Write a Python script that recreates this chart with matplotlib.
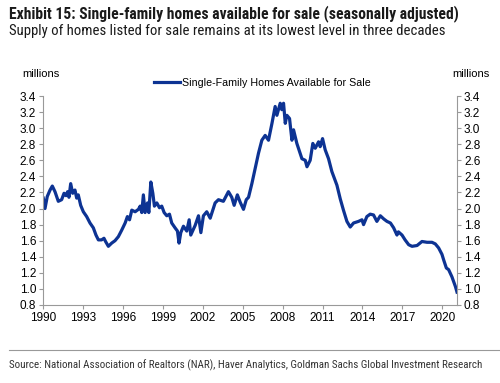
import matplotlib
matplotlib.use("Agg")
import matplotlib.pyplot as plt
from matplotlib import font_manager

years = [1990.02, 1990.15, 1990.32, 1990.53, 1990.70, 1990.90, 1991.15, 1991.40, 1991.58, 1991.73,
         1991.85, 1991.95, 1992.08, 1992.23, 1992.40, 1992.53, 1992.65, 1992.83, 1993.03, 1993.28,
         1993.53, 1993.78, 1993.98, 1994.16, 1994.40, 1994.58, 1994.70, 1994.91, 1995.16, 1995.41,
         1995.66, 1995.91, 1996.17, 1996.34, 1996.50, 1996.67, 1996.92, 1997.17, 1997.30, 1997.42,
         1997.54, 1997.67, 1997.85, 1997.95, 1998.10, 1998.25, 1998.37, 1998.55, 1998.75, 1998.92,
         1999.10, 1999.30, 1999.50, 1999.67, 1999.92, 2000.10, 2000.22, 2000.35, 2000.55, 2000.80,
         2000.98, 2001.10, 2001.43, 2001.68, 2001.86, 2002.05, 2002.30, 2002.56, 2002.93, 2003.18,
         2003.55, 2003.93, 2004.18, 2004.36, 2004.60, 2004.81, 2005.06, 2005.27, 2005.44, 2005.69,
         2005.94, 2006.19, 2006.44, 2006.69, 2006.94, 2007.20, 2007.44, 2007.57, 2007.82, 2007.94,
         2008.07, 2008.20, 2008.32, 2008.52, 2008.70, 2008.82, 2009.07, 2009.45, 2009.70, 2009.83,
         2010.07, 2010.27, 2010.45, 2010.70, 2010.82, 2011.00, 2011.20, 2011.45, 2011.70, 2012.08,
         2012.33, 2012.57, 2012.83, 2013.08, 2013.33, 2013.70, 2013.96, 2014.08, 2014.33, 2014.58,
         2014.83, 2015.08, 2015.34, 2015.60, 2015.84, 2016.10, 2016.34, 2016.59, 2016.70, 2016.97,
         2017.20, 2017.47, 2017.72, 2018.10, 2018.47, 2018.85, 2019.22, 2019.47, 2019.72, 2019.97,
         2020.10, 2020.30, 2020.47, 2020.72, 2020.98, 2021.10]

homes = [2.13, 2.00, 2.15, 2.23, 2.28, 2.21, 2.09, 2.11, 2.19, 2.16,
         2.21, 2.14, 2.31, 2.19, 2.23, 2.13, 2.17, 2.04, 1.96, 1.90,
         1.82, 1.76, 1.67, 1.61, 1.61, 1.63, 1.59, 1.53, 1.57, 1.60,
         1.65, 1.73, 1.82, 1.90, 1.86, 1.98, 1.96, 1.99, 2.03, 1.95,
         2.17, 1.95, 2.07, 1.95, 2.33, 2.19, 2.03, 2.07, 2.01, 2.03,
         1.95, 1.91, 1.93, 1.82, 1.76, 1.72, 1.57, 1.70, 1.78, 1.72,
         1.86, 1.67, 1.79, 1.91, 1.70, 1.91, 1.96, 1.88, 2.07, 2.11,
         2.09, 2.21, 2.14, 2.04, 2.17, 2.08, 1.99, 2.11, 2.14, 2.31,
         2.50, 2.69, 2.85, 2.91, 2.85, 3.06, 3.27, 3.16, 3.31, 3.23,
         3.31, 3.06, 3.16, 3.12, 2.85, 2.98, 2.81, 2.62, 2.60, 2.52,
         2.60, 2.81, 2.75, 2.83, 2.77, 2.87, 2.73, 2.62, 2.46, 2.29,
         2.12, 1.98, 1.84, 1.77, 1.82, 1.84, 1.86, 1.80, 1.90, 1.93,
         1.92, 1.84, 1.91, 1.87, 1.84, 1.82, 1.76, 1.67, 1.71, 1.67,
         1.61, 1.55, 1.53, 1.54, 1.59, 1.58, 1.58, 1.56, 1.51, 1.43,
         1.36, 1.26, 1.24, 1.15, 1.03, 0.96]

xticks = [1990, 1993, 1996, 1999, 2002, 2005, 2008, 2011, 2014, 2017, 2020]
yticks = [0.8, 1.0, 1.2, 1.4, 1.6, 1.8, 2.0, 2.2, 2.4, 2.6, 2.8, 3.0, 3.2, 3.4]

title = "Exhibit 15: Single-family homes available for sale (seasonally adjusted)"
subtitle = "Supply of homes listed for sale remains at its lowest level in three decades"
series_name = "Single-Family Homes Available for Sale"
source = "Source: National Association of Realtors (NAR), Haver Analytics, Goldman Sachs Global Investment Research"

# pick a condensed face if one exists
names = {f.name for f in font_manager.fontManager.ttflist}
narrow = None
for cand in ["Liberation Sans Narrow", "Arial Narrow", "Roboto Condensed", "Open Sans Condensed"]:
    if cand in names:
        narrow = cand
        break
narrow_kw = {}
if narrow is not None:
    narrow_kw = dict(family=[narrow, 'DejaVu Sans'])
else:
    has_dv_cond = any(f.name == 'DejaVu Sans' and str(f.stretch) in ('condensed', '400', 'semi-condensed')
                      and 'Condensed' in f.fname for f in font_manager.fontManager.ttflist)
    if has_dv_cond:
        narrow_kw = dict(family=['DejaVu Sans'], fontstretch='condensed')
    else:
        narrow_kw = dict(family=['Liberation Sans', 'DejaVu Sans'])

plt.rcParams['font.family'] = ['Liberation Sans', 'DejaVu Sans']

fig = plt.figure(figsize=(5.0, 3.83), dpi=100)
ax = fig.add_axes([0.086, 0.2037, 0.828, 0.5456])
line_color = "#0d3393"
ax.plot(years, homes, color=line_color, lw=2.3, label=series_name, solid_joinstyle='round')
ax.set_xlim(1990, 2021.1)
ax.set_ylim(0.8, 3.4)
ax.set_xticks(xticks)
ax.set_xticklabels([str(t) for t in xticks], fontsize=8.5)
ax.set_yticks(yticks)
ax.set_yticklabels([f"{t:.1f}" for t in yticks], fontsize=8.5)
ax.tick_params(axis='both', direction='out', length=3, color='#999999', width=0.8, pad=2)
ax.tick_params(axis='y', which='both', left=True, right=True, labelleft=True, labelright=True)
for s in ['left', 'right', 'bottom']:
    ax.spines[s].set_color('#999999')
    ax.spines[s].set_linewidth(0.8)
ax.spines['top'].set_visible(False)

leg = ax.legend(loc='center', bbox_to_anchor=(0.53, 1.062), frameon=False,
                fontsize=7.7, handlelength=2.4, handletextpad=0.15, borderaxespad=0,
                borderpad=0)

fig.text(0.044, 0.807, "millions", fontsize=8, ha='left', va='center')
fig.text(0.904, 0.807, "millions", fontsize=8, ha='left', va='center')

t1 = fig.text(0.018, 0.965, title, fontsize=11.5, fontweight='bold',
              ha='left', va='center', color='#1a1a1a', **narrow_kw)
t2 = fig.text(0.018, 0.918, subtitle, fontsize=10,
              ha='left', va='center', color='#1a1a1a', **narrow_kw)

fig.add_artist(plt.Line2D([0.018, 1.0], [0.086, 0.086], color='#999999', lw=0.8,
                          transform=fig.transFigure))
t3 = fig.text(0.018, 0.047, source, fontsize=7.8,
              ha='left', va='center', color='#333333', **narrow_kw)

# fit text widths to the reference widths (pixels)
fig.canvas.draw()
renderer = fig.canvas.get_renderer()
for t, target in [(t1, 446), (t2, 435), (t3, 475)]:
    for _ in range(3):
        w = t.get_window_extent(renderer).width
        t.set_fontsize(t.get_fontsize() * target / w)
        fig.canvas.draw()

fig.savefig("out.png", dpi=100)
